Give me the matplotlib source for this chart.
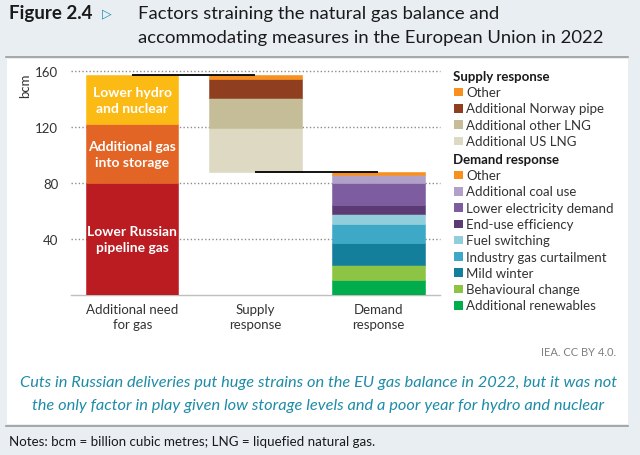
import matplotlib
matplotlib.use("Agg")
import matplotlib.pyplot as plt
from matplotlib.patches import Rectangle
from matplotlib.lines import Line2D

# ---------------- data ----------------
categories = ["Additional need\nfor gas", "Supply\nresponse", "Demand\nresponse"]

need_labels = ["Lower Russian\npipeline gas", "Additional gas\ninto storage", "Lower hydro\nand nuclear"]
need_values = [80, 42, 35]
need_colors = ["#BA1C22", "#E36525", "#FCBB14"]

supply_labels = ["Additional US LNG", "Additional other LNG", "Additional Norway pipe", "Other"]
supply_values = [31.5, 21.5, 13.8, 2.2]
supply_colors = ["#DDD9C3", "#C4BD97", "#8F3E1F", "#F7901E"]

demand_labels = ["Additional renewables", "Behavioural change", "Mild winter",
                 "Industry gas curtailment", "Fuel switching", "End-use efficiency",
                 "Lower electricity demand", "Additional coal use", "Other"]
demand_values = [10.7, 11.0, 15.7, 13.4, 7.4, 6.4, 15.3, 6.2, 1.9]
demand_colors = ["#00AC4C", "#8DC444", "#137F9A", "#3EA9C6", "#92CDDC",
                 "#5C3B74", "#7D5C9F", "#B1A0C7", "#F7901E"]

yticks = [40, 80, 120, 160]

# ---------------- figure ----------------
W, H = 640, 456
FONT = "Lato"
fig = plt.figure(figsize=(W / 100, H / 100), dpi=100, facecolor="#E9EEF3")


def fx(x):
    return x / W


def fy(y):
    return 1 - y / H


# white panel
fig.patches.append(Rectangle((fx(7), fy(425)), fx(628) - fx(7), fy(60) - fy(425),
                             transform=fig.transFigure, facecolor="white",
                             edgecolor="none", zorder=-10))
# separator lines
fig.lines.append(Line2D([fx(6), fx(628)], [fy(57.5), fy(57.5)], transform=fig.transFigure,
                        color="#9A9A9A", lw=1.2))
fig.lines.append(Line2D([fx(6), fx(628)], [fy(426.5), fy(426.5)], transform=fig.transFigure,
                        color="#9A9A9A", lw=1.2))

# titles
fig.text(fx(9), fy(14), "Figure 2.4", fontsize=13.5, fontweight="bold", family=FONT,
         color="#1A1A1A", va="center", ha="left")
fig.text(fx(102), fy(14), "\u25B7", fontsize=9, family="DejaVu Sans",
         color="#1E8CA8", va="center", ha="left", fontweight="bold")
fig.text(fx(138), fy(14), "Factors straining the natural gas balance and",
         fontsize=13.3, family=FONT, color="#1A1A1A", va="center", ha="left")
fig.text(fx(138), fy(38), "accommodating measures in the European Union in 2022",
         fontsize=13.3, family=FONT, color="#1A1A1A", va="center", ha="left")

# ---------------- axes ----------------
ax = fig.add_axes([fx(70.7), fy(296), fx(440) - fx(70.7), fy(72.3) - fy(296)])
ax.set_zorder(5)
ax.set_facecolor("none")
ax.set_xlim(-0.5, 2.5)
ax.set_ylim(0, 160)

x = list(range(len(categories)))
width = 0.75


def stack(xpos, values, colors, base=0.0):
    bottoms = []
    b = base
    for v, c in zip(values, colors):
        ax.bar(xpos, v, width, bottom=b, color=c, edgecolor=c, linewidth=0.4, zorder=3)
        bottoms.append(b)
        b += v
    return bottoms, b


need_bottoms, need_total = stack(x[0], need_values, need_colors)
supply_base = need_total - sum(supply_values)
stack(x[1], supply_values, supply_colors, base=supply_base)
stack(x[2], demand_values, demand_colors)

# labels inside first bar
for lab, v, b in zip(need_labels, need_values, need_bottoms):
    ax.text(x[0], b + v / 2, lab, ha="center", va="center", color="white",
            fontsize=10, fontweight="bold", family=FONT, linespacing=1.35, zorder=5)

# connector lines
ax.plot([x[0], x[1]], [need_total, need_total], color="black", lw=1.3, zorder=4,
        solid_capstyle="butt")
ax.plot([x[1], x[2]], [supply_base, supply_base], color="black", lw=1.3, zorder=4,
        solid_capstyle="butt")

# grid / spines
ax.set_yticks(yticks)
ax.set_yticklabels([str(t) for t in yticks])
for t in yticks:
    ax.axhline(t, color="#8C8C8C", lw=1.0, linestyle=(0, (1, 1.6)), zorder=1, clip_on=False)
for s in ["top", "right", "left"]:
    ax.spines[s].set_visible(False)
ax.spines["bottom"].set_color("#BFBFBF")
ax.spines["bottom"].set_linewidth(1.0)
ax.tick_params(axis="y", length=0, pad=9, labelsize=9.5, labelcolor="#333333")
ax.tick_params(axis="x", length=0, pad=6, labelsize=9.5, labelcolor="#333333")
ax.set_xticks(x)
ax.set_xticklabels(categories, linespacing=1.3)
for lbl in ax.get_xticklabels() + ax.get_yticklabels():
    lbl.set_family(FONT)

fig.text(fx(25), fy(86), "bcm", rotation=90, fontsize=9.5, family=FONT,
         color="#333333", ha="center", va="center")

# ---------------- legend ----------------
lx_patch, lx_text = 454, 466.5
step = 16.3
y0 = 76.7


def header(y, txt):
    fig.text(fx(453), fy(y), txt, fontsize=9.5, fontweight="bold", family=FONT,
             color="#1A1A1A", ha="left", va="center")


def item(y, txt, col):
    fig.patches.append(Rectangle((fx(lx_patch), fy(y + 4.2)), fx(8.6), fy(0) - fy(8.6),
                                 transform=fig.transFigure, facecolor=col,
                                 edgecolor="none"))
    fig.text(fx(lx_text), fy(y), txt, fontsize=9.5, family=FONT, color="#333333",
             ha="left", va="center")


yy = y0
header(yy, "Supply response")
for lab, col in zip(supply_labels[::-1], supply_colors[::-1]):
    yy += step
    item(yy, lab, col)
yy += step + 1.5
header(yy, "Demand response")
for lab, col in zip(demand_labels[::-1], demand_colors[::-1]):
    yy += step
    item(yy, lab, col)

# ---------------- footer ----------------
fig.text(fx(616), fy(353), "IEA. CC BY 4.0.", fontsize=8, family=FONT,
         color="#808080", ha="right", va="center")
fig.text(fx(318), fy(383),
         "Cuts in Russian deliveries put huge strains on the EU gas balance in 2022, but it was not",
         fontsize=11.8, family=FONT, style="italic", color="#1E8CA8",
         ha="center", va="center")
fig.text(fx(318), fy(406),
         "the only factor in play given low storage levels and a poor year for hydro and nuclear",
         fontsize=11.8, family=FONT, style="italic", color="#1E8CA8",
         ha="center", va="center")
fig.text(fx(9), fy(442), "Notes: bcm = billion cubic metres; LNG = liquefied natural gas.",
         fontsize=9.6, family=FONT, color="#1A1A1A", ha="left", va="center")

fig.savefig("out.png", dpi=100, facecolor=fig.get_facecolor())
